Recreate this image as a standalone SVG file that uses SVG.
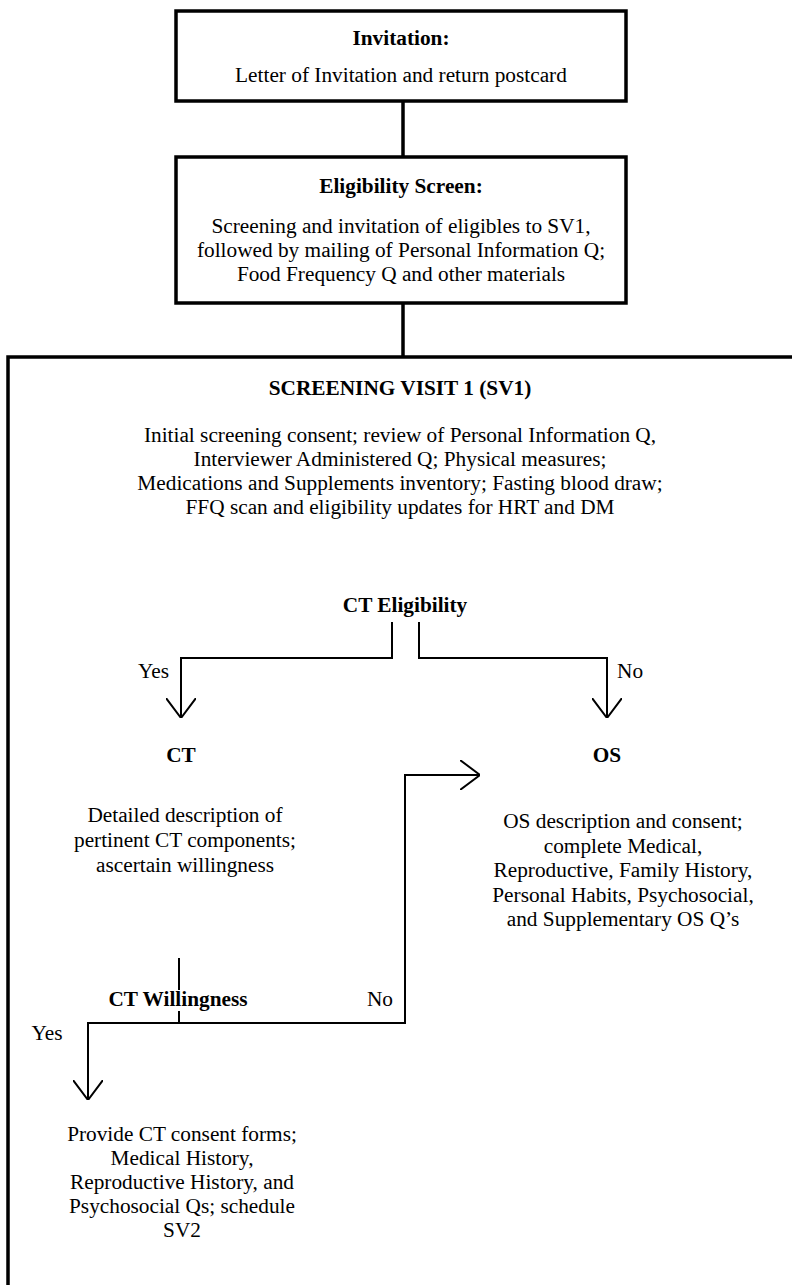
<svg xmlns="http://www.w3.org/2000/svg" width="792" height="1285" viewBox="0 0 792 1285">
<style>
text{font-family:"Liberation Serif","Times New Roman",serif;font-size:21.3px;fill:#000;text-anchor:middle}
.b{font-weight:bold}
.box{fill:#fff;stroke:#000;stroke-width:3.5}
.thick{fill:none;stroke:#000;stroke-width:3.5}
.thin{fill:none;stroke:#000;stroke-width:2}
</style>
<defs>
<marker id="ah" viewBox="0 0 20 30" refX="20" refY="15" markerWidth="20" markerHeight="30" markerUnits="userSpaceOnUse" orient="auto">
<path d="M0,0 L20,15 L0,30" fill="none" stroke="#000" stroke-width="2"/>
</marker>
</defs>
<g id="connectors">
<line class="thick" x1="403" y1="102" x2="403" y2="157"/>
<line class="thick" x1="403" y1="303" x2="403" y2="357"/>
<path class="thin" d="M392,622 V658 H181 V718" marker-end="url(#ah)"/>
<path class="thin" d="M419,622 V658 H607 V718" marker-end="url(#ah)"/>
<line class="thin" x1="179" y1="958" x2="179" y2="990"/>
<line class="thin" x1="179" y1="1011" x2="179" y2="1023"/>
<path class="thin" d="M179,1023 H88 V1100" marker-end="url(#ah)"/>
<path class="thin" d="M179,1023 H405 V775 H480" marker-end="url(#ah)"/>
</g>
<g id="invitation">
<rect class="box" x="176" y="11" width="450" height="90"/>
<text class="b" x="401" y="45">Invitation:</text>
<text x="401" y="82">Letter of Invitation and return postcard</text>
</g>
<g id="eligibility-screen">
<rect class="box" x="176" y="157" width="450" height="146"/>
<text class="b" x="401" y="193">Eligibility Screen:</text>
<text x="401" y="233">Screening and invitation of eligibles to SV1,</text>
<text x="401" y="257">followed by mailing of Personal Information Q;</text>
<text x="401" y="281">Food Frequency Q and other materials</text>
</g>
<g id="sv1">
<path class="thick" d="M8,1290 V357 H800" stroke-width="4"/>
<text class="b" x="400" y="395">SCREENING VISIT 1 (SV1)</text>
<text x="400" y="442">Initial screening consent; review of Personal Information Q,</text>
<text x="400" y="466">Interviewer Administered Q; Physical measures;</text>
<text x="400" y="490">Medications and Supplements inventory; Fasting blood draw;</text>
<text x="400" y="514">FFQ scan and eligibility updates for HRT and DM</text>
</g>
<g id="ct-eligibility">
<text class="b" x="405" y="612">CT Eligibility</text>
<text x="169" y="678" style="text-anchor:end">Yes</text>
<text x="617" y="678" style="text-anchor:start">No</text>
</g>
<g id="ct">
<text class="b" x="181" y="762">CT</text>
<text x="185" y="822">Detailed description of</text>
<text x="185" y="847">pertinent CT components;</text>
<text x="185" y="872">ascertain willingness</text>
</g>
<g id="os">
<text class="b" x="607" y="762">OS</text>
<text x="623" y="828">OS description and consent;</text>
<text x="623" y="852.5">complete Medical,</text>
<text x="623" y="877">Reproductive, Family History,</text>
<text x="623" y="901.5">Personal Habits, Psychosocial,</text>
<text x="623" y="926">and Supplementary OS Q’s</text>
</g>
<g id="ct-willingness">
<text class="b" x="178" y="1006">CT Willingness</text>
<text x="380" y="1006">No</text>
<text x="47" y="1040">Yes</text>
</g>
<g id="ct-consent">
<text x="182" y="1141">Provide CT consent forms;</text>
<text x="182" y="1165">Medical History,</text>
<text x="182" y="1189">Reproductive History, and</text>
<text x="182" y="1213">Psychosocial Qs; schedule</text>
<text x="182" y="1237">SV2</text>
</g>
</svg>
